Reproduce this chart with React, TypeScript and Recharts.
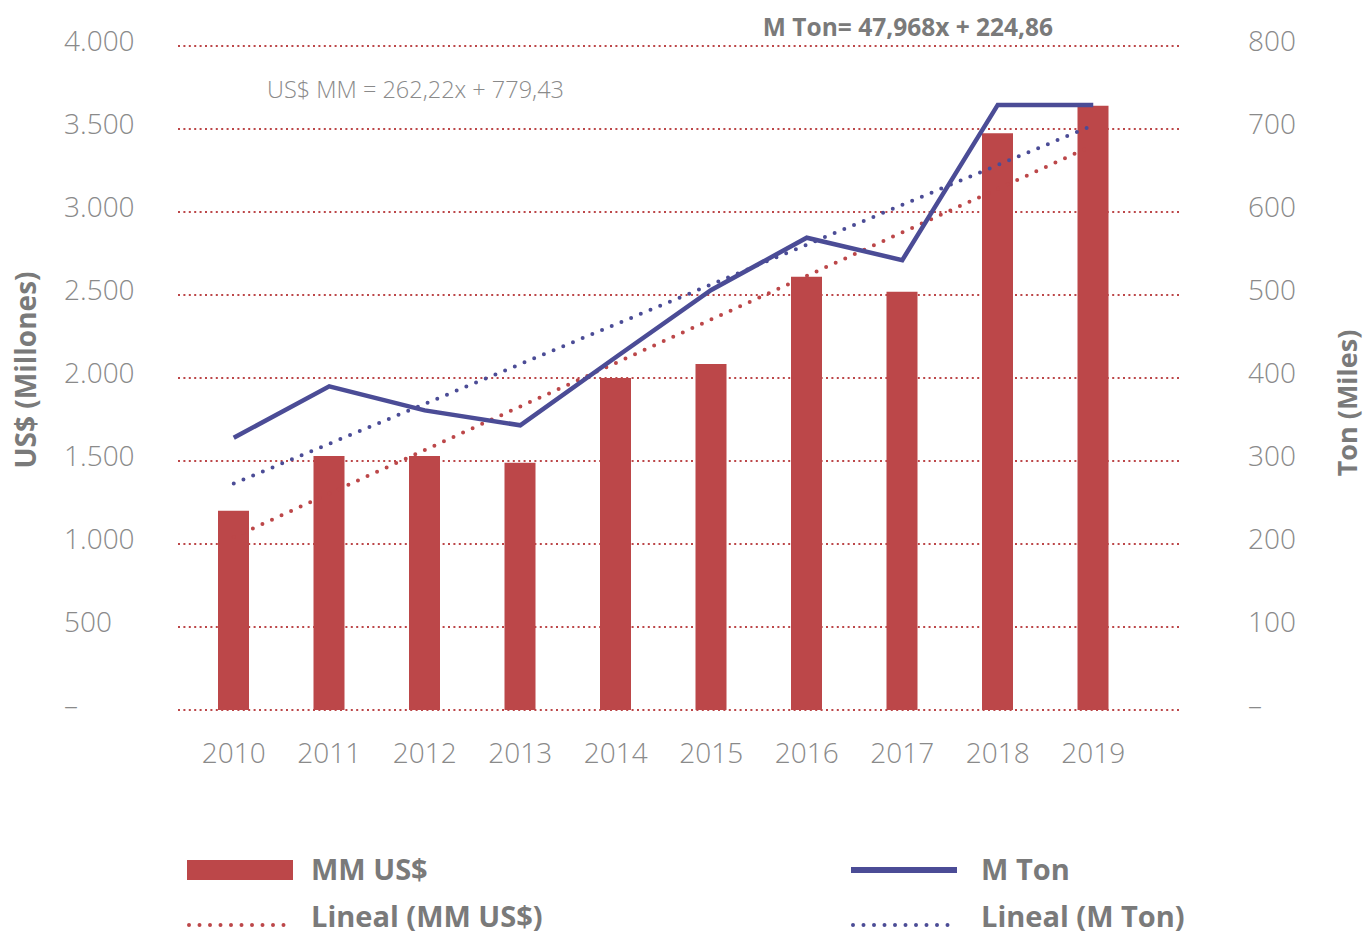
import React from 'react';
import {
    ComposedChart,
    Bar,
    Line,
    XAxis,
    YAxis,
    CartesianGrid,
    Legend,
} from 'recharts';

const years = ['2010', '2011', '2012', '2013', '2014', '2015', '2016', '2017', '2018', '2019'];
const usdValues = [1200, 1530, 1530, 1490, 2000, 2085, 2610, 2520, 3475, 3640];
const tonValues = [328, 390, 361, 343, 425, 506, 569, 542, 729, 729];

// trend equations as printed on the chart
const usdTrend = { slope: 262.22, intercept: 779.43 };
const tonTrend = { slope: 47.968, intercept: 224.86 };

const leftTicks = [0, 500, 1000, 1500, 2000, 2500, 3000, 3500, 4000];
const rightTicks = [0, 100, 200, 300, 400, 500, 600, 700, 800];

const RED = '#BC4749';
const BLUE = '#4B4C96';
const GRAY = '#8a8a8a';
const DARK = '#7a7a7a';
const FONT = '"Open Sans", "Noto Sans", sans-serif';

const data = years.map((year, i) => ({
    year,
    usd: usdValues[i],
    ton: tonValues[i],
    usdFit: usdTrend.intercept + usdTrend.slope * (i + 1),
    tonFit: tonTrend.intercept + tonTrend.slope * (i + 1),
}));

const fmt = (v: number) =>
    v === 0 ? '–' : String(v).replace(/\B(?=(\d{3})+(?!\d))/g, '.');

// eslint-disable-next-line @typescript-eslint/no-explicit-any
const LeftTick = ({ y, payload }: any) => (
    <text x={64} y={y + 5} fill={GRAY} fontSize={28} fontWeight={300} fontFamily={FONT} textAnchor="start">
        {fmt(payload.value)}
    </text>
);

// eslint-disable-next-line @typescript-eslint/no-explicit-any
const RightTick = ({ y, payload }: any) => (
    <text x={1248} y={y + 5} fill={GRAY} fontSize={28} fontWeight={300} fontFamily={FONT} textAnchor="start">
        {fmt(payload.value)}
    </text>
);

const legendText = {
    position: 'absolute' as const,
    fontFamily: FONT,
    fontWeight: 700,
    fontSize: 29,
    color: DARK,
    lineHeight: '30px',
    whiteSpace: 'nowrap' as const,
};

const LegendBox = () => (
    <div style={{ position: 'relative', width: 1364, height: 95 }}>
        <div style={{ position: 'absolute', left: 187, top: 20, width: 106, height: 20, background: RED }} />
        <div style={{ ...legendText, left: 311, top: 14 }}>MM US$</div>
        <div style={{ position: 'absolute', left: 851, top: 27, width: 106, height: 6, background: BLUE }} />
        <div style={{ ...legendText, left: 981, top: 14 }}>M Ton</div>
        <svg style={{ position: 'absolute', left: 0, top: 0 }} width={1364} height={95}>
            <line x1={189} x2={293} y1={85} y2={85} stroke={RED} strokeWidth={4} strokeDasharray="0 10.5" strokeLinecap="round" />
            <line x1={853} x2={957} y1={85} y2={85} stroke={BLUE} strokeWidth={4} strokeDasharray="0 10.5" strokeLinecap="round" />
        </svg>
        <div style={{ ...legendText, left: 311, top: 61 }}>Lineal (MM US$)</div>
        <div style={{ ...legendText, left: 981, top: 61 }}>Lineal (M Ton)</div>
    </div>
);

export default function App() {
    return (
        <div style={{ position: 'absolute', left: 0, top: 0, width: 1364, height: 935, background: '#fff' }}>
            <ComposedChart
                width={1364}
                height={935}
                data={data}
                margin={{ top: 46, right: 0, left: 0, bottom: 0 }}
            >
                <CartesianGrid
                    vertical={false}
                    stroke={RED}
                    strokeWidth={2}
                    strokeDasharray="2 3.4"
                    yAxisId="left"
                />
                <XAxis
                    dataKey="year"
                    height={225}
                    padding={{ left: 8, right: 41 }}
                    axisLine={false}
                    tickLine={false}
                    tickSize={0}
                    tickMargin={33}
                    tick={{ fill: GRAY, fontSize: 28, fontWeight: 300, fontFamily: FONT }}
                />
                <YAxis
                    yAxisId="left"
                    width={178}
                    domain={[0, 4000]}
                    ticks={leftTicks}
                    axisLine={false}
                    tickLine={false}
                    tick={<LeftTick />}
                />
                <YAxis
                    yAxisId="right"
                    orientation="right"
                    width={182}
                    domain={[0, 800]}
                    ticks={rightTicks}
                    axisLine={false}
                    tickLine={false}
                    tick={<RightTick />}
                />
                <Bar yAxisId="left" dataKey="usd" fill={RED} barSize={31} isAnimationActive={false} />
                <Line
                    yAxisId="left"
                    dataKey="usdFit"
                    type="linear"
                    stroke={RED}
                    strokeWidth={4}
                    strokeDasharray="0 10.5"
                    strokeLinecap="round"
                    dot={false}
                    isAnimationActive={false}
                />
                <Line
                    yAxisId="right"
                    dataKey="tonFit"
                    type="linear"
                    stroke={BLUE}
                    strokeWidth={4}
                    strokeDasharray="0 10.5"
                    strokeLinecap="round"
                    dot={false}
                    isAnimationActive={false}
                />
                <Line
                    yAxisId="right"
                    dataKey="ton"
                    type="linear"
                    stroke={BLUE}
                    strokeWidth={4.5}
                    dot={false}
                    isAnimationActive={false}
                />
                <Legend
                    layout="horizontal"
                    verticalAlign="middle"
                    align="center"
                    wrapperStyle={{ left: 0, top: 840, width: 1364, height: 95 }}
                    content={<LegendBox />}
                />
            </ComposedChart>
            <svg
                style={{ position: 'absolute', left: 0, top: 0, pointerEvents: 'none' }}
                width={1364}
                height={935}
            >
                <text x={908} y={36} textAnchor="middle" fill={DARK} fontFamily={FONT} fontWeight={700} fontSize={24.5}>
                    M Ton= 47,968x + 224,86
                </text>
                <text x={267} y={98} textAnchor="start" fill={GRAY} fontFamily={FONT} fontWeight={300} fontSize={23.5}>
                    US$ MM = 262,22x + 779,43
                </text>
                <text
                    transform="translate(36,370) rotate(-90)"
                    textAnchor="middle"
                    fill={DARK}
                    fontFamily={FONT}
                    fontWeight={700}
                    fontSize={28}
                >
                    US$ (Millones)
                </text>
                <text
                    transform="translate(1357,403) rotate(-90)"
                    textAnchor="middle"
                    fill={DARK}
                    fontFamily={FONT}
                    fontWeight={700}
                    fontSize={27}
                >
                    Ton (Miles)
                </text>
            </svg>
        </div>
    );
}
